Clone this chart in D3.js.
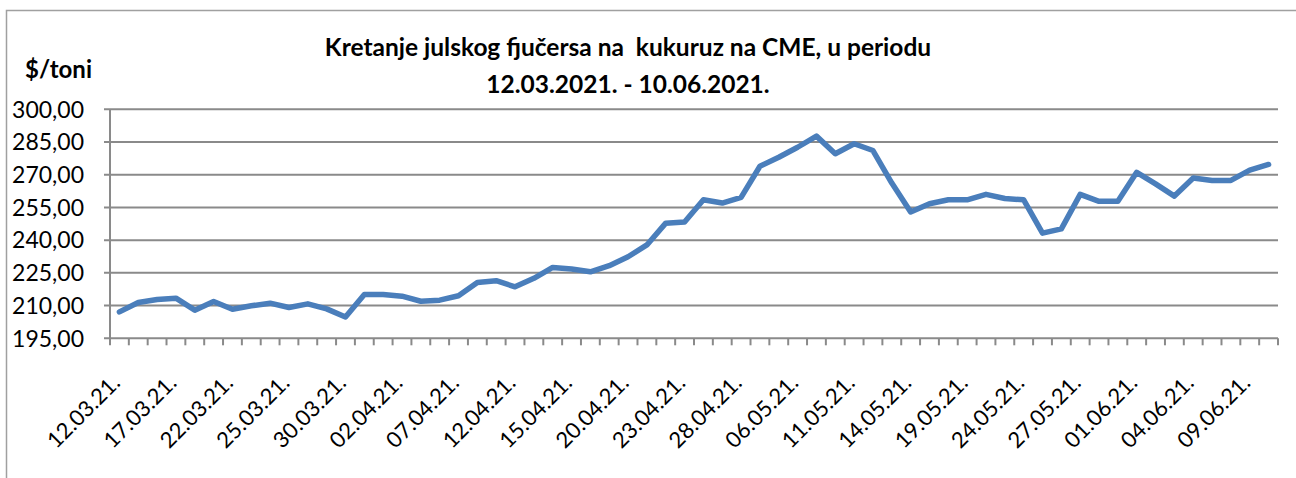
<!DOCTYPE html>
<html>
<head>
<meta charset="utf-8">
<script src="https://cdn.jsdelivr.net/npm/d3@7"></script>
<style>
  body { margin: 0; background: #fff; }
  text { font-family: Lato, "Open Sans", sans-serif; fill: #000; }
</style>
</head>
<body>
<div id="wrapper"></div>
<script>
// trading days shown on the category axis
const dates = [
  "12.03.21.", "15.03.21.", "16.03.21.", "17.03.21.", "18.03.21.", "19.03.21.",
  "22.03.21.", "23.03.21.", "24.03.21.", "25.03.21.", "26.03.21.", "29.03.21.",
  "30.03.21.", "31.03.21.", "01.04.21.", "02.04.21.", "05.04.21.", "06.04.21.",
  "07.04.21.", "08.04.21.", "09.04.21.", "12.04.21.", "13.04.21.", "14.04.21.",
  "15.04.21.", "16.04.21.", "19.04.21.", "20.04.21.", "21.04.21.", "22.04.21.",
  "23.04.21.", "26.04.21.", "27.04.21.", "28.04.21.", "29.04.21.", "05.05.21.",
  "06.05.21.", "07.05.21.", "10.05.21.", "11.05.21.", "12.05.21.", "13.05.21.",
  "14.05.21.", "17.05.21.", "18.05.21.", "19.05.21.", "20.05.21.", "21.05.21.",
  "24.05.21.", "25.05.21.", "26.05.21.", "27.05.21.", "28.05.21.", "31.05.21.",
  "01.06.21.", "02.06.21.", "03.06.21.", "04.06.21.", "07.06.21.", "08.06.21.",
  "09.06.21.", "10.06.21."
]

// $/toni
const prices = [
  207.1, 211.4, 212.8, 213.4, 207.9, 211.9, 208.3, 209.9, 211.1, 209.1,
  210.8, 208.5, 204.8, 215.1, 215.1, 214.3, 212.0, 212.5, 214.5, 220.6,
  221.4, 218.6, 222.5, 227.5, 226.8, 225.5, 228.3, 232.4, 237.8, 247.8,
  248.3, 258.5, 257.0, 259.6, 273.9, 278.0, 282.6, 287.7, 279.6, 284.2,
  281.1, 266.2, 252.9, 256.7, 258.5, 258.5, 261.0, 259.1, 258.5, 243.2,
  245.2, 261.0, 257.8, 257.8, 271.1, 265.8, 260.2, 268.5, 267.4, 267.4,
  272.1, 274.7
]

const yTicks = [195, 210, 225, 240, 255, 270, 285, 300]
const labelEvery = 3

const titleLines = [
  "Kretanje julskog fjučersa na  kukuruz na CME, u periodu",
  "12.03.2021. - 10.06.2021."
]
const unitLabel = "$/toni"

const width = 1296
const height = 478
const plot = { left: 110, right: 1278, top: 109.3, bottom: 338.3 }

const svg = d3.select("#wrapper")
  .append("svg")
  .attr("width", width)
  .attr("height", height)

// outer frame (only top and left edges visible in the crop)
svg.append("path")
  .attr("d", `M6.5,${height} V10.5 H${width}`)
  .attr("fill", "none")
  .attr("stroke", "#a0a0a0")
  .attr("stroke-width", 1.5)

const x = d3.scaleBand()
  .domain(dates)
  .range([plot.left, plot.right])
  .padding(0)

const y = d3.scaleLinear()
  .domain([195, 300])
  .range([plot.bottom, plot.top])

const fmt = d3.formatLocale({ decimal: ",", thousands: ".", grouping: [3], currency: ["", ""] }).format(".2f")

// gridlines + y axis ticks
const grid = svg.append("g")
grid.selectAll("line")
  .data(yTicks)
  .enter().append("line")
  .attr("x1", plot.left - 6)
  .attr("x2", plot.right)
  .attr("y1", d => y(d))
  .attr("y2", d => y(d))
  .attr("stroke", "#8a8a8a")
  .attr("stroke-width", 2)

svg.append("line")
  .attr("x1", plot.left).attr("x2", plot.left)
  .attr("y1", plot.top).attr("y2", plot.bottom)
  .attr("stroke", "#8a8a8a")
  .attr("stroke-width", 2)

svg.append("g").selectAll("text")
  .data(yTicks)
  .enter().append("text")
  .attr("x", 84)
  .attr("y", d => y(d))
  .attr("dy", "0.36em")
  .attr("text-anchor", "end")
  .style("font-size", "23px")
  .text(d => fmt(d))

// x axis ticks at category boundaries
const bounds = dates.map(d => x(d)).concat([plot.right])
svg.append("g").selectAll("line")
  .data(bounds)
  .enter().append("line")
  .attr("x1", d => d).attr("x2", d => d)
  .attr("y1", plot.bottom).attr("y2", plot.bottom + 7)
  .attr("stroke", "#8a8a8a")
  .attr("stroke-width", 2)

svg.append("g").selectAll("text")
  .data(dates.filter((d, i) => i % labelEvery == 0))
  .enter().append("text")
  .attr("text-anchor", "end")
  .attr("transform", d => `translate(${x(d) + x.bandwidth() / 2 + 2}, ${plot.bottom + 46}) rotate(-45)`)
  .style("font-size", "22px")
  .text(d => d)

// price line
const line = d3.line()
  .x((d, i) => x(dates[i]) + x.bandwidth() / 2)
  .y(d => y(d))

svg.append("path")
  .datum(prices)
  .attr("d", line)
  .attr("fill", "none")
  .attr("stroke", "#4a7ebb")
  .attr("stroke-width", 5.5)
  .attr("stroke-linejoin", "round")
  .attr("stroke-linecap", "round")

// titles
svg.append("g").selectAll("text")
  .data(titleLines)
  .enter().append("text")
  .attr("x", 628)
  .attr("y", (d, i) => 56 + i * 37)
  .attr("text-anchor", "middle")
  .style("font-size", "24.5px")
  .style("font-weight", "bold")
  .style("white-space", "pre")
  .text(d => d)

svg.append("text")
  .attr("x", 25)
  .attr("y", 78)
  .style("font-size", "24px")
  .style("font-weight", "bold")
  .text(unitLabel)
</script>
</body>
</html>
